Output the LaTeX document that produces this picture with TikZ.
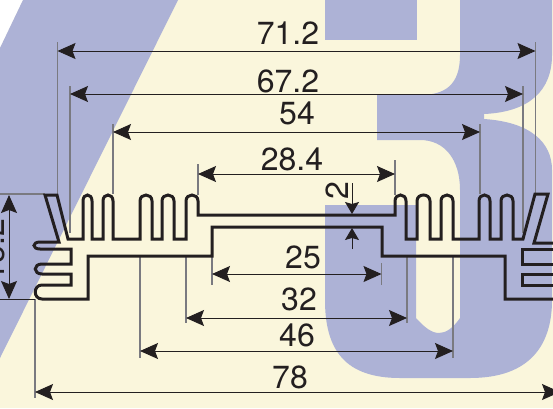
\documentclass[tikz,border=0pt]{standalone}
\usepackage{fontspec}
\setmainfont{TeX Gyre Heros}
\usetikzlibrary{arrows.meta}
\definecolor{inkdark}{HTML}{231F20}
\definecolor{papercream}{HTML}{FAF6DC}
\definecolor{logoblue}{HTML}{ADB2D6}
\definecolor{extgrey}{HTML}{7A7A80}
\tikzset{
  dimline/.style={inkdark, line width=0.9pt, {Stealth[length=18pt,width=16pt,inset=3pt]}-{Stealth[length=18pt,width=16pt,inset=3pt]}},
  smallline/.style={inkdark, line width=0.9pt, -{Stealth[length=12pt,width=14pt,inset=2pt]}},
  extline/.style={extgrey, line width=1.2pt},
  dimtext/.style={inkdark, font=\fontsize{32}{32}\selectfont, inner sep=0pt, anchor=base},
  profile/.style={inkdark, line width=3pt, miter limit=10}
}
\begin{document}
\begin{tikzpicture}[x=1pt, y=-1pt]
  \useasboundingbox (0,0) rectangle (553,408);
  \clip (0,0) rectangle (553,408);

  % background
  \fill [papercream] (0,0) rectangle (553,408);
  \fill [white] (0,0) -- (23,0) -- (0,48) -- cycle;
  \fill [logoblue] (23,0) -- (178,0) -- (0,358) -- (0,48) -- cycle;
  \fill [logoblue] (325,0) rectangle (417,40);
  \fill [logoblue]
    (460,0) -- (552,0) -- (552,55)
    .. controls (552,90) and (530,112) .. (484,114) -- (484,119)
    .. controls (530,122) and (552,142) .. (552,170) -- (552,300)
    .. controls (552,345) and (530,378) .. (470,378) -- (400,378)
    .. controls (345,378) and (325,350) .. (325,300) -- (325,205) -- (416,205) -- (416,318)
    .. controls (425,328) and (432,333) .. (439,333)
    .. controls (446,333) and (453,328) .. (460,318) -- (460,190)
    .. controls (460,160) and (445,140) .. (420,140) -- (377,140) -- (377,95) -- (420,95)
    .. controls (445,95) and (460,85) .. (460,55) -- cycle;

  % extension lines
  \foreach \x/\a/\b in {57.5/42/195, 535.5/42/194, 70/86/233, 523/86/233, 113/124/194, 480/124/194,
    198/164/195, 395/160/195, 212/256/285, 381.5/263/285, 186/256/323, 407/256/323,
    140/256/358, 453/256/358, 35/299/398}
  {
    \draw [extline] (\x,\a) -- (\x,\b);
  }
  \draw [extline] (0,194) -- (45,194);
  \draw [inkdark, line width=0.9pt] (0,299) -- (35,299);

  % dimension arrows
  \foreach \name/\xa/\xb/\y in {a/57.5/535.5/51, b/70/523/94, c/113/480/132, d/198/395/174,
    e/212/381.5/274, f/186/407/318, g/140/453/351, h/35/560/392}
  {
    \coordinate (\name l) at (\xa,\y);
    \coordinate (\name r) at (\xb,\y);
    \draw [dimline] (\name l) -- (\name r);
  }
  \coordinate (hgt top) at (9,195);
  \coordinate (hgt bot) at (9,299);
  \draw [dimline] (hgt top) -- (hgt bot);
  \coordinate (wall a) at (352,183);
  \coordinate (wall b) at (352,214);
  \coordinate (wall c) at (352,249);
  \coordinate (wall d) at (352,228);
  \draw [smallline] (wall a) -- (wall b);
  \draw [smallline] (wall c) -- (wall d);

  % profile
  \draw [profile]
    (553,299) -- (505,299) -- (505,256) -- (382,256) -- (382,227) -- (212,227) -- (212,256)
    -- (88,256) -- (88,299) -- (42,299)
    .. controls (33,299) and (33,285) .. (42,285) -- (71,285) -- (71,274) -- (42,274)
    .. controls (33,274) and (33,264) .. (42,264) -- (71,264) -- (71,249) -- (40,249)
    .. controls (32,249) and (32,242) .. (40,242) -- (59,242) -- (45,195) -- (57,195) -- (68,239)
    \foreach \a/\b in {83/92, 103/113, 140/152, 162/174}
    {
      -- (\a,239) -- (\a,201) .. controls (\a,193) and (\b,193) .. (\b,201) -- (\b,239)
    }
    -- (186,239) -- (186,201) .. controls (186,193) and (198,193) .. (198,201) -- (198,215)
    -- (395,215) -- (395,201) .. controls (395,193) and (406,193) .. (406,201) -- (406,239)
    \foreach \a/\b in {417/430, 441/453, 479/490, 501/513}
    {
      -- (\a,239) -- (\a,201) .. controls (\a,193) and (\b,193) .. (\b,201) -- (\b,239)
    }
    -- (523,239) -- (535,194) -- (548,194) -- (534,243) -- (553,243);
  \draw [profile] (553,249) -- (522,249) -- (522,264) -- (553,264);
  \draw [profile] (553,274) -- (522,274) -- (522,285) -- (553,285);

  % labels
  \foreach \name/\x/\y/\val in {ta/288/44/71.2, tb/288/92/67.2, tc/297/124/54, td/292/170/28.4,
    te/303/268/25, tf/299/310/32, tg/297/346/46, th/290/388/78}
  {
    \path (\x,\y) node [dimtext] (\name) {\val};
  }
  \path (348,191) node [dimtext, rotate=90] (twall) {2};
  \path (5,250) node [dimtext, rotate=90] (thgt) {15.2};
\end{tikzpicture}
\end{document}
